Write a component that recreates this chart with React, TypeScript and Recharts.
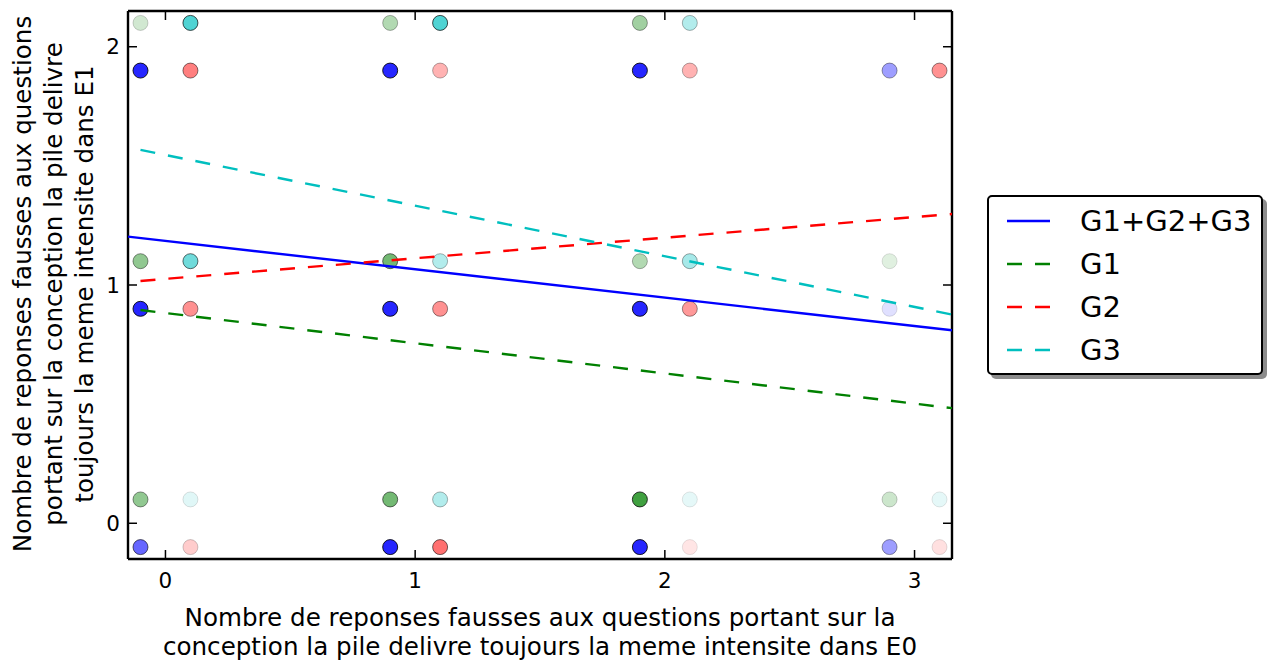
import React from 'react';
import { ScatterChart, Scatter, XAxis, YAxis } from 'recharts';

const xTicks = [0, 1, 2, 3];
const yTicks = [0, 1, 2];
const gridX = [0, 1, 2, 3];
const gridY = [2, 1, 0];

// opacity of each marker, rows follow gridY, columns follow gridX; 0 = no marker
const alphaAll = [
  [0.85, 0.85, 0.85, 0.38],
  [0.85, 0.85, 0.85, 0.12],
  [0.6, 0.85, 0.85, 0.38],
];
const alphaG1 = [
  [0.18, 0.3, 0.37, 0],
  [0.43, 0.55, 0.3, 0.12],
  [0.43, 0.55, 0.75, 0.2],
];
const alphaG2 = [
  [0.5, 0.3, 0.3, 0.43],
  [0.43, 0.43, 0.4, 0],
  [0.2, 0.56, 0.1, 0.12],
];
const alphaG3 = [
  [0.69, 0.69, 0.3, 0],
  [0.56, 0.3, 0.35, 0],
  [0.12, 0.3, 0.1, 0.1],
];

// jitter offsets (dx, dy) per group
const offsetAll = [-0.1, -0.1];
const offsetG1 = [-0.1, 0.1];
const offsetG2 = [0.1, -0.1];
const offsetG3 = [0.1, 0.1];

// regression lines endpoints
const lineAll = [{ x: -0.15, y: 1.203 }, { x: 3.15, y: 0.81 }];
const lineG1 = [{ x: -0.1, y: 0.895 }, { x: 3.15, y: 0.483 }];
const lineG2 = [{ x: -0.1, y: 1.017 }, { x: 3.15, y: 1.298 }];
const lineG3 = [{ x: -0.1, y: 1.567 }, { x: 3.15, y: 0.876 }];

const legendLabels = ['G1+G2+G3', 'G1', 'G2', 'G3'];
const colors = ['#0000ff', '#008000', '#ff0000', '#00bfbf'];
const dashes = ['', '15 13', '15 13', '15 13'];

function buildPoints(alpha: number[][], off: number[]) {
  const pts: { x: number; y: number; a: number }[] = [];
  gridY.forEach((gy, r) => {
    gridX.forEach((gx, c) => {
      const a = alpha[r][c];
      if (a > 0) pts.push({ x: gx + off[0], y: gy + off[1], a });
    });
  });
  return pts;
}

const groups = [
  buildPoints(alphaAll, offsetAll),
  buildPoints(alphaG1, offsetG1),
  buildPoints(alphaG2, offsetG2),
  buildPoints(alphaG3, offsetG3),
];
const lines = [lineAll, lineG1, lineG2, lineG3];

const FONT = '"DejaVu Sans", sans-serif';

const makeDot = (color: string) => (props: any) => {
  const { cx, cy, payload } = props;
  if (cx == null || cy == null) return <g />;
  return (
    <circle
      cx={cx}
      cy={cy}
      r={7.5}
      fill={color}
      fillOpacity={payload.a}
      stroke="#000"
      strokeOpacity={payload.a}
      strokeWidth={1}
    />
  );
};

const YTitle = () => (
  <g fontFamily={FONT} fontSize={24.6} fill="#000">
    {[
      'Nombre de reponses fausses aux questions',
      'portant sur la conception la pile delivre',
      'toujours la meme intensite dans E1',
    ].map((t, i) => {
      const x = 31 + i * 31;
      const y = 284;
      return (
        <text key={i} x={x} y={y} textAnchor="middle" transform={`rotate(-90, ${x}, ${y})`}>
          {t}
        </text>
      );
    })}
  </g>
);

const XTitle = () => (
  <g fontFamily={FONT} fontSize={24.6} fill="#000">
    <text x={540} y={626} textAnchor="middle">
      Nombre de reponses fausses aux questions portant sur la
    </text>
    <text x={540} y={655} textAnchor="middle">
      conception la pile delivre toujours la meme intensite dans E0
    </text>
  </g>
);

const tickStyle = { fontFamily: FONT, fontSize: 21.5, fill: '#000' };
const axisLineStyle = { stroke: '#000', strokeWidth: 2.4 };
const tickLineStyle = { stroke: '#000', strokeWidth: 1.5 };

export default function App() {
  return (
    <div style={{ position: 'absolute', left: 0, top: 0, width: 1272, height: 660, background: '#fff' }}>
      <ScatterChart width={1272} height={660} margin={{ top: 10, right: 319, bottom: 41, left: 68 }}>
        <XAxis
          xAxisId={0}
          type="number"
          dataKey="x"
          domain={[-0.15, 3.15]}
          ticks={xTicks}
          allowDataOverflow
          height={60}
          tickSize={-9}
          tickMargin={23}
          tick={tickStyle}
          axisLine={axisLineStyle}
          tickLine={tickLineStyle}
          label={{ content: () => <XTitle /> }}
        />
        <XAxis
          xAxisId="top"
          orientation="top"
          type="number"
          dataKey="x"
          domain={[-0.15, 3.15]}
          ticks={xTicks}
          allowDataOverflow
          height={1}
          tickSize={-9}
          tick={() => <g />}
          axisLine={axisLineStyle}
          tickLine={tickLineStyle}
        />
        <YAxis
          yAxisId={0}
          type="number"
          dataKey="y"
          domain={[-0.15, 2.15]}
          ticks={yTicks}
          allowDataOverflow
          width={60}
          tickSize={-9}
          tickMargin={17}
          tick={tickStyle}
          axisLine={axisLineStyle}
          tickLine={tickLineStyle}
          label={{ content: () => <YTitle /> }}
        />
        <YAxis
          yAxisId="right"
          orientation="right"
          type="number"
          dataKey="y"
          domain={[-0.15, 2.15]}
          ticks={yTicks}
          allowDataOverflow
          width={1}
          tickSize={-9}
          tick={() => <g />}
          axisLine={axisLineStyle}
          tickLine={tickLineStyle}
        />
        {groups.map((pts, i) => (
          <Scatter
            key={`pts-${i}`}
            data={pts}
            xAxisId={0}
            yAxisId={0}
            shape={makeDot(colors[i])}
            isAnimationActive={false}
          />
        ))}
        {lines.map((ln, i) => (
          <Scatter
            key={`line-${i}`}
            data={ln}
            xAxisId={0}
            yAxisId={0}
            line={{ stroke: colors[i], strokeWidth: 2.4, strokeDasharray: dashes[i] || undefined }}
            shape={() => <g />}
            isAnimationActive={false}
          />
        ))}
      </ScatterChart>
      <div
        style={{
          position: 'absolute',
          left: 987,
          top: 195,
          width: 272,
          height: 176,
          border: '2px solid #000',
          borderRadius: 5,
          background: '#fff',
          boxShadow: '4px 4px 0 #8c8c8c',
          fontFamily: FONT,
          fontSize: 29,
          color: '#000',
        }}
      >
        {legendLabels.map((lab, i) => (
          <div key={lab} style={{ position: 'absolute', left: 0, top: 4 + i * 43, height: 40, width: 272 }}>
            <svg width={60} height={40} style={{ position: 'absolute', left: 18, top: 0 }}>
              <line
                x1={0}
                x2={43}
                y1={20}
                y2={20}
                stroke={colors[i]}
                strokeWidth={2.4}
                strokeDasharray={dashes[i] ? '15 13' : undefined}
              />
            </svg>
            <span style={{ position: 'absolute', left: 91, top: 0, lineHeight: '40px', whiteSpace: 'nowrap' }}>{lab}</span>
          </div>
        ))}
      </div>
    </div>
  );
}
